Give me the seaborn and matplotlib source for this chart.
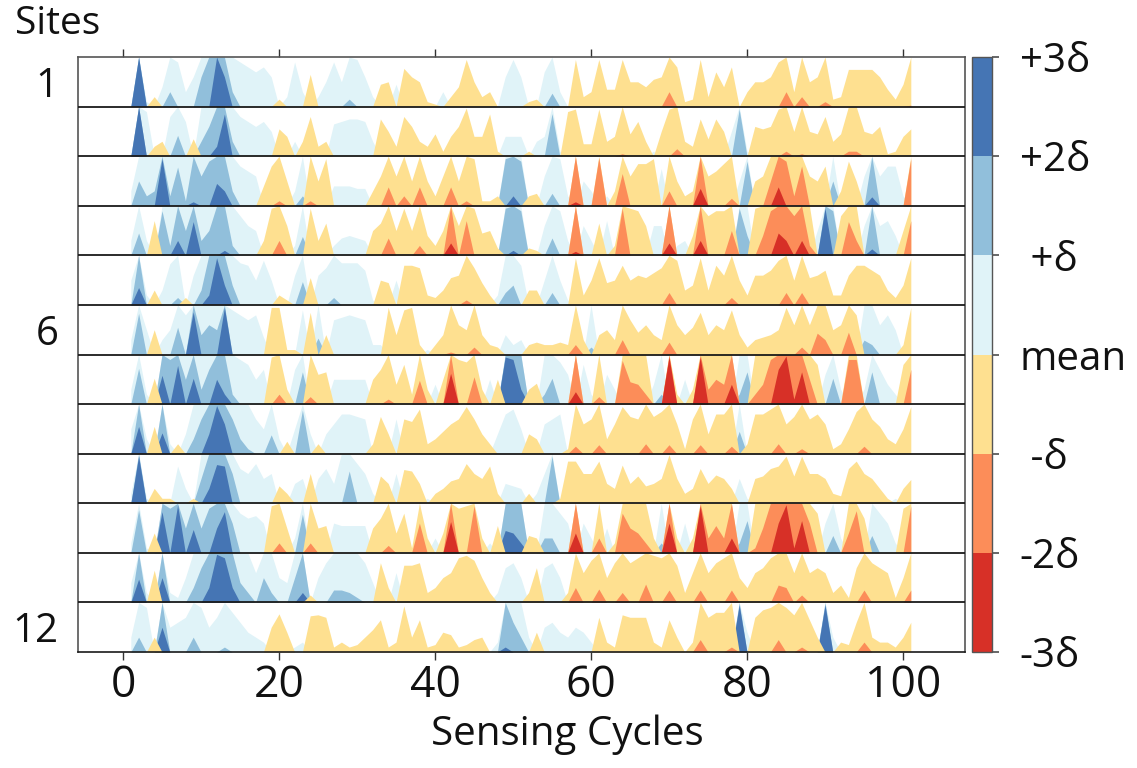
import numpy as np
import matplotlib
matplotlib.use("Agg")
import matplotlib.pyplot as plt
from matplotlib.colors import ListedColormap, BoundaryNorm
import seaborn as sns

# ---------------- data (values in units of delta, cycles 1..101) ----------------
cycles = np.arange(1, 102)

site1 = [0, 3.0, 0.1, -0.2, 0.4, 1.3, 0.9, 0.3, 0.6, 1.6,
         2.0, 3.0, 2.6, 1.3, 0.9, 0.8, 0.7, 0.8, 0.6, -0.15,
         0.2, 0.9, 0.3, -0.65, 0.2, 0.5, 0.9, 0.5, 1.15, 0.95,
         0.6, 0.2, -0.45, -0.5, 0.45, -0.77, -0.6, -0.5, -0.1, -0.05,
         0.3, -0.2, -0.4, -0.95, -0.5, -0.2, -0.3, 0.0, 0.6, 0.95,
         0.6, -0.1, -0.15, 0.7, 1.27, 0.3, 0.0, -0.95, -0.2, -0.3,
         -0.95, -0.35, -0.35, -0.95, -0.5, -0.5, -0.4, -0.55, -0.6, -1.3,
         -0.8, -0.1, -0.15, -0.95, -0.2, -0.7, -0.4, -0.8, 0.0, -0.3,
         -0.5, -0.5, -0.6, -0.9, -1.3, -0.3, -1.2, -0.5, -0.6, -1.1,
         -0.15, -0.2, -0.75, -0.75, -0.75, -0.75, -0.6, -0.35, -0.15, -0.45, -1.03]

site2 = [0, 3.0, 0.9, -0.2, -0.3, 0.8, 1.42, 0.7, -0.35, 1.3,
         1.6, 2.2, 2.85, 1.3, 0.8, 0.7, 0.6, 0.7, 0.5, -0.55,
         -0.4, 0.3, -0.3, -0.8, -0.2, -0.3, 0.65, 0.7, 0.75, 0.75,
         0.7, 0.3, -0.75, -0.5, -0.2, -0.8, -0.6, -0.3, -0.2, -0.45,
         -0.1, -0.4, -0.6, -0.97, -0.4, -0.4, -0.85, -0.1, 0.4, 0.4,
         0.4, -0.1, 0.3, 0.4, 1.86, 0.1, -0.9, -0.95, -0.25, -0.25,
         -0.95, -0.3, -0.4, -1.05, -0.45, -0.7, -0.3, 0.1, -0.5, -0.95,
         -1.15, -0.3, -0.2, -0.75, -0.35, -0.75, -0.5, 0.5, 1.95, 0.1,
         -0.6, -0.55, -0.6, -0.95, -1.1, -0.5, -1.05, -0.5, -0.45, -0.8,
         -0.3, -0.45, -1.1, -1.1, -0.5, -0.45, -0.6, -0.05, -0.1, -0.4, -0.55]

site3 = [0.3, 1.5, 1.2, 1.3, 2.95, 1.2, 1.78, 1.1, 2.08, 1.6,
         1.9, 2.45, 2.3, 1.3, 0.8, 0.7, 0.6, -0.4, -0.8, -1.1,
         -0.5, 0.3, 1.2, -1.1, -0.5, -0.95, 0.4, 0.4, 0.4, 0.35,
         0.35, -0.3, -0.6, -1.38, -0.6, -1.2, -0.5, -1.38, -0.5, -0.2,
         -0.6, -1.38, -0.5, -1.1, -0.95, -0.1, -0.1, -0.2, 1.95, 2.2,
         1.9, -0.2, -0.25, 0.6, 1.25, 0.95, 0.2, -2.08, 0.5, 0.3,
         -1.97, 0.2, -0.3, -1.65, -0.6, -0.85, -0.85, -0.95, 0.75, -1.3,
         -0.5, -0.2, -0.3, -2.35, -0.6, -0.7, -0.85, -1.15, 0.5, 1.9,
         -0.5, -0.6, -1.5, -2.38, -1.9, -1.2, -1.8, -0.6, -0.5, -0.8,
         1.5, -0.3, -0.9, -0.5, 0.6, 2.18, 0.6, 0.8, 0.8, 0.2, -1.95]

site4 = [0.3, 1.45, 0.3, -0.7, 1.9, 1.2, 2.3, 1.5, 2.68, 1.3,
         1.5, 2.0, 2.1, 1.2, 0.8, 0.6, 0.5, -0.3, -0.95, -1.3,
         -0.6, 0.2, 1.38, -0.95, -0.3, -0.65, 0.2, 0.35, 0.4, 0.35,
         0.3, -0.5, -0.65, -1.35, -0.5, -0.95, -0.5, -1.2, -0.4, -0.2,
         -0.5, -2.25, -0.6, -1.7, -0.95, -0.45, -0.5, -0.15, 1.95, 2.1,
         1.9, -0.15, -0.1, 0.6, 1.35, 0.9, 0.3, -2.08, 0.6, 0.3,
         -0.65, 0.7, -0.2, -1.95, -0.95, -0.9, -0.6, 0.6, 0.6, -2.25,
         0.2, 0.3, -0.4, -2.3, -0.8, -0.9, -0.9, -1.5, 1.95, 1.4,
         -0.95, -1.4, -1.9, -2.45, -2.3, -1.8, -2.3, -1.2, 0.5, 2.95,
         1.9, -0.8, -1.68, -1.3, 0.6, 2.13, 0.6, 0.7, 0.4, -0.5, -1.7]

site5 = [0.5, 2.35, 0.2, -0.3, 0.3, 0.83, 1.15, -0.15, 0.6, 1.3,
         2.2, 2.95, 2.4, 1.4, 0.85, 0.8, 0.5, 0.9, 0.5, -0.2,
         -0.1, 0.6, 1.47, -0.55, 0.6, 0.75, 1.15, 0.85, 0.85, 0.85,
         0.7, 0.1, -0.5, -0.45, 0.5, -0.8, -0.8, -0.75, -0.2, -0.15,
         -0.3, -0.55, -0.6, -1.1, -0.75, -0.45, -0.2, 0.2, 1.25, 1.4,
         0.8, -0.3, -0.3, 0.5, 1.25, 0.5, 0.1, -0.95, -0.2, -0.5,
         -0.95, -0.45, -0.5, -0.8, -0.5, -0.6, -0.55, -0.65, -0.75, -1.25,
         -0.9, -0.3, -0.4, -0.95, -0.3, -0.8, -0.6, -1.15, -0.5, -0.2,
         -0.6, -0.6, -0.7, -0.9, -1.25, -0.5, -1.25, -0.55, -0.6, -0.7,
         -0.2, -0.2, -0.6, -0.8, -0.8, -0.7, -0.6, -0.3, -0.15, -0.4, -0.95]

site6 = [0.3, 1.83, 0.5, -0.5, 0.3, 0.5, 1.55, 0.8, 2.86, 1.4,
         1.6, 1.5, 2.95, 0.9, 0.8, 0.7, 0.8, 0.35, -0.95, -0.95,
         -0.1, -0.1, 0.9, -0.85, 1.33, -0.4, 0.7, 0.75, 0.8, 0.75,
         0.7, 0.2, 0.2, -0.95, -0.4, -0.9, -0.95, -0.2, 0.1, -0.2,
         -0.4, -1.05, -0.6, -0.5, -1.15, -0.4, -0.2, -0.15, 0.4, 0.2,
         0.3, -0.2, -0.25, -0.2, -0.2, -0.25, -0.2, -1.2, -0.3, 1.15,
         -0.4, -0.5, -0.3, -1.3, -0.7, -0.45, -0.6, -0.4, -0.3, -1.25,
         -0.6, -0.4, -0.55, -0.85, -0.4, -0.6, -0.5, -0.9, -0.4, -0.15,
         -0.3, -0.35, -0.4, -0.5, -0.95, -0.6, -1.15, -0.6, -1.43, -1.3,
         -0.5, -0.6, -1.45, -0.8, 1.29, 1.2, 0.6, 0.8, 0.5, -0.2, -0.95]

site7 = [0.3, 1.72, 0.2, -0.52, 2.58, 1.9, 2.78, 1.5, 2.52, 1.3,
         1.7, 2.5, 2.2, 1.2, 0.9, 0.8, 0.5, 0.7, -0.95, -1.2,
         -0.3, 0.7, 1.65, -1.15, -0.6, -0.65, 0.5, 0.5, 0.5, 0.5,
         0.5, -0.5, -0.7, -1.1, -0.4, -0.8, -0.2, -1.48, -0.3, 0.4,
         -0.5, -2.62, -0.9, -0.85, -1.55, -0.3, 0.5, -0.5, 2.95, 2.9,
         2.3, -0.3, -0.42, 1.2, 1.52, 0.85, 0.6, -2.25, 0.8, 0.2,
         -1.15, 0.6, 0.3, -1.88, -1.45, -1.4, -1.2, 0.4, 1.2, -2.95,
         -0.2, 0.5, -0.3, -2.95, -1.3, -1.5, -1.4, -2.4, 1.2, 1.65,
         -1.2, -1.4, -1.9, -2.7, -2.97, -2.1, -2.65, -1.5, -0.8, 0.6,
         1.52, 0.3, -1.9, -1.9, 0.3, 1.65, 0.7, 0.4, 0.2, -0.8, -1.7]

site8 = [0.5, 2.55, 0.3, -0.55, 2.42, 0.2, -0.2, 0.4, 1.3, 1.7,
         2.4, 2.97, 2.6, 1.7, 1.3, 1.1, 0.7, 0.5, 1.38, 0.3,
         -0.25, 0.5, 1.88, 0.4, -0.2, 0.4, 0.6, 0.8, 0.8, 0.75,
         0.7, -0.2, -0.75, -0.4, 0.7, -0.7, -0.65, -0.9, -0.2, -0.3,
         -0.45, -0.6, -0.7, -0.95, -0.7, -0.4, -0.2, 0.4, 0.8, 0.9,
         0.5, -0.4, -0.3, 0.6, 0.7, 0.8, -0.1, -1.15, -0.6, -0.7,
         -1.18, -0.3, -0.6, -0.95, -0.75, -0.7, -1.2, -0.75, -0.85, -1.18,
         -0.6, -0.1, -0.7, -1.18, -0.4, -0.8, -0.8, -1.15, 1.45, -0.2,
         -0.8, -0.8, -0.9, -1.2, -0.6, -0.75, -1.1, -0.7, -0.8, -0.6,
         -0.1, -0.2, -0.5, -0.85, -1.15, -0.7, -0.55, -0.3, -0.2, -0.5, -0.95]

site9 = [0.2, 2.95, 0.1, -0.3, -0.1, -0.1, 0.75, 0.3, -0.1, 1.5,
         2.3, 2.78, 2.75, 1.6, 0.7, 0.6, 0.8, 0.5, 0.6, -0.35,
         -0.2, 0.4, 0.5, -0.6, 0.5, 0.7, 0.4, 1.0, 1.65, 0.8,
         0.6, 0.2, -0.55, -0.4, 0.6, -0.68, -0.65, -0.4, 0.1, -0.2,
         -0.3, -0.45, -0.5, -0.8, -0.6, -0.5, -0.75, -0.2, 0.4, 0.35,
         0.3, -0.2, 0.2, 0.6, 1.95, -0.1, -0.85, -0.85, -0.6, -0.6,
         -0.85, -0.4, -0.3, -0.77, -0.4, -0.55, -0.35, -0.4, -0.5, -0.98,
         -0.5, -0.2, -0.3, -0.7, -0.4, -0.57, -0.5, -0.3, 0.5, 0.1,
         -0.5, -0.55, -0.7, -0.75, -0.95, -0.55, -0.95, -0.6, -0.6, -0.5,
         -0.2, -0.15, -0.7, -0.85, -0.6, -0.5, -0.3, -0.1, 0.1, -0.3, -0.48]

site10 = [0.2, 1.87, 0.1, -0.4, 2.83, 1.9, 2.97, 1.5, 2.47, 1.5,
          1.9, 2.5, 2.83, 1.6, 0.8, 0.7, 0.75, 0.6, -0.95, -1.2,
          -0.5, 0.3, 1.78, -1.2, -0.5, -0.55, 0.6, 0.55, 0.55, 0.55,
          0.55, -0.5, -0.7, -1.15, -0.4, -0.8, -0.1, -1.6, -0.3, 0.3,
          -0.4, -2.63, -0.9, -0.95, -1.95, -0.3, 0.2, -0.55, 2.45, 2.4,
          2.2, -0.35, -0.3, 1.3, 1.3, 0.8, 0.6, -2.4, 0.6, 0.3,
          -1.3, 0.5, -0.2, -1.8, -1.5, -1.4, -1.2, -0.3, 1.2, -2.6,
          -0.3, 0.6, -0.3, -2.95, -1.3, -1.55, -1.3, -2.3, 1.2, 1.65,
          -1.1, -1.5, -2.0, -2.6, -2.97, -2.1, -2.65, -1.6, -0.8, 0.6,
          1.35, 0.3, -1.4, -1.85, -0.7, 1.35, 0.8, 0.6, 0.2, -0.9, -1.95]

site11 = [0.4, 2.47, 0.2, -0.65, 2.5, 0.2, 0.1, 0.5, 1.3, 1.7,
          2.3, 2.97, 2.9, 2.3, 1.4, 1.2, 0.6, 1.5, 1.2, 0.5,
          0.4, 1.5, 2.2, -0.15, 0.5, 0.8, 1.25, 1.25, 1.2, 1.1,
          0.8, 0.4, -0.8, -0.3, 0.6, -0.75, -0.75, -0.8, -0.2, -0.3,
          -0.5, -0.6, -0.9, -0.95, -0.85, -0.5, -0.2, 0.2, 0.7, 0.8,
          0.5, -0.2, -0.7, 0.7, 0.8, 0.5, -0.2, -1.3, -0.6, -0.85,
          -1.27, -0.5, -0.8, -1.2, -0.8, -0.9, -1.37, -0.95, -0.9, -1.25,
          -0.75, -0.2, -0.6, -1.25, -0.6, -0.8, -0.9, -1.25, -0.5, -0.3,
          -0.6, -0.7, -0.9, -1.35, -1.3, -0.6, -1.15, -0.6, -0.7, -0.6,
          -0.2, -0.35, -0.1, -0.7, -1.25, -0.8, -0.7, -0.6, -0.1, -0.5, -1.25]

site12 = [0.3, 1.3, 0.9, -0.3, 2.5, 0.5, 0.6, 0.7, 1.3, 0.9,
          0.5, 0.7, 1.1, 0.8, 0.6, 0.4, 0.3, 0.2, -0.5, -0.77,
          -0.4, 0.1, 0.2, -0.73, -0.75, -0.7, -0.1, -0.2, -0.1, -0.15,
          -0.3, -0.45, -0.65, -0.1, -0.2, -0.93, -0.3, -0.65, -0.1, -0.15,
          -0.4, -0.35, -0.1, -0.15, -0.25, -0.3, 0.0, 0.2, 2.1, 1.6,
          1.3, 0.3, -0.4, 0.5, 0.6, 0.4, 0.3, 0.5, 0.4, 0.2,
          -0.7, -0.2, -0.1, -0.75, -0.7, -0.7, -0.7, -0.2, -0.1, -0.65,
          -0.3, 0.0, -0.2, -1.25, -0.7, -0.8, -0.8, -1.1, 2.95, 0.4,
          -0.7, -0.85, -0.9, -1.25, -0.9, -0.75, -1.1, -0.65, -0.3, 2.95,
          0.3, -0.2, -0.15, -0.6, -1.2, -0.3, -0.2, -0.2, -0.1, -0.3, -0.6]

sites = [site1, site2, site3, site4, site5, site6,
         site7, site8, site9, site10, site11, site12]
site_ticks = ["1", "6", "12"]
site_tick_rows = [1, 6, 12]
x_ticks = [0, 20, 40, 60, 80, 100]
band_labels = ["-3δ", "-2δ", " -δ", "mean", " +δ", "+2δ", "+3δ"]

for k, s in enumerate(sites):
    if len(s) != len(cycles):
        raise ValueError(f"site{k+1} has {len(s)} values")

# ---------------- style ----------------
sns.set_theme(style="white")
plt.rcParams["font.family"] = ["Open Sans", "DejaVu Sans"]

# 6-class RdYlBu (ColorBrewer), red ... blue
pal = sns.color_palette(["#d73027", "#fc8d59", "#fee090",
                         "#e0f3f8", "#91bfdb", "#4575b4"])
neg_cols = [pal[2], pal[1], pal[0]]            # yellow, orange, red
pos_cols = [pal[3], pal[4], pal[5]]            # light, mid, dark blue

W, H = 1137, 768
fig = plt.figure(figsize=(W / 100, H / 100), dpi=100)
ax = fig.add_axes([78 / W, 1 - 652 / H, (965 - 78) / W, (652 - 57) / H])

n = len(sites)
for i, vals in enumerate(sites):
    base = n - 1 - i
    v = np.asarray(vals, dtype=float)
    pos = np.clip(v, 0, None)
    neg = np.clip(-v, 0, None)
    for k in range(3):
        ax.fill_between(cycles, base, base + np.clip(pos - k, 0, 1),
                        color=pos_cols[k], lw=0)
    for k in range(3):
        ax.fill_between(cycles, base, base + np.clip(neg - k, 0, 1),
                        color=neg_cols[k], lw=0)
    if i < n - 1:
        ax.axhline(base, color="#1a1a1a", lw=1.3, zorder=5)

ax.set_xlim((78 - 123) / 7.8, (965 - 123) / 7.8)
ax.set_ylim(0, n)
ax.set_xticks(x_ticks)
ax.tick_params(axis="x", top=True, bottom=True, direction="out",
               length=6, width=1, color="#333", labelsize=32, pad=2)
ax.set_yticks([n - r + 0.5 for r in site_tick_rows])
ax.set_yticklabels(site_ticks)
ax.tick_params(axis="y", length=0, labelsize=29, pad=14)
for sp in ax.spines.values():
    sp.set_color("#555")
    sp.set_linewidth(1.2)
ax.spines["bottom"].set_color("#1a1a1a")
for t in ax.get_xticklabels() + ax.get_yticklabels():
    t.set_color("#111")

fig.text(567 / W, 1 - 735 / H, "Sensing Cycles", ha="center", va="center",
         fontsize=29, color="#111")
fig.text(58 / W, 1 - 24 / H, "Sites", ha="center", va="center",
         fontsize=28, color="#111")

# colour scale
cmap = ListedColormap(pal)
norm = BoundaryNorm(np.arange(-3, 4), cmap.N)
cax = fig.add_axes([972 / W, 1 - 652 / H, 20 / W, (652 - 57) / H])
sm = matplotlib.cm.ScalarMappable(norm=norm, cmap=cmap)
cb = fig.colorbar(sm, cax=cax, ticks=np.arange(-3, 4))
cb.ax.set_yticklabels(band_labels)
cb.ax.tick_params(labelsize=29, length=5, color="#555", pad=15)
for t in cb.ax.get_yticklabels():
    t.set_color("#111")
cb.outline.set_edgecolor("#555")
cb.outline.set_linewidth(1)

fig.savefig("out.png", dpi=100)
